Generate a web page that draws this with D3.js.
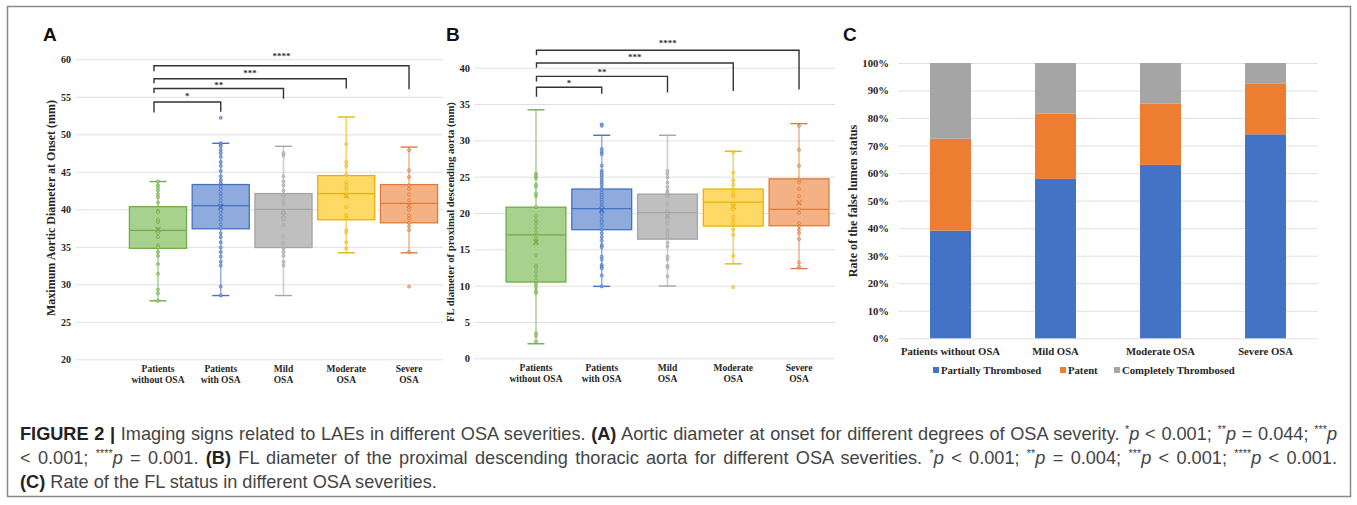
<!DOCTYPE html>
<html>
<head>
<meta charset="utf-8">
<script src="https://cdn.jsdelivr.net/npm/d3@7"></script>
<style>
  body { margin: 0; background: #fff; }
  svg { display: block; }
</style>
</head>
<body>
<svg id="fig" width="1357" height="505"></svg>
<script>
// ---- data ----
const boxGroups = [["Patients", "without OSA"], ["Patients", "with OSA"], ["Mild", "OSA"], ["Moderate", "OSA"], ["Severe", "OSA"]];
const sigLabels = ["*", "**", "***", "****"];
const sigTargets = [1, 2, 3, 4];

// panel A: maximum aortic diameter at onset (mm)
const aMin = [27.8, 28.5, 28.5, 34.2, 34.2];
const aQ1 = [34.8, 37.4, 34.9, 38.6, 38.2];
const aMedian = [37.2, 40.5, 40.0, 42.1, 40.8];
const aQ3 = [40.35, 43.3, 42.1, 44.5, 43.3];
const aMax = [43.7, 48.8, 48.4, 52.3, 48.3];
const aMean = [37.3, 40.35, 39.2, 41.8, 40.5];
const aOutliers = [[], [52.2], [], [], [29.7]];
const aPoints = [
  [43.7, 43.2, 42.9, 42.5, 42.0, 41.6, 40.9, 39.8, 39.6, 38.6, 38.3, 37.4, 36.8, 36.3, 35.2, 34.9, 34.3, 33.8, 32.7, 31.4, 29.3, 28.8, 27.8],
  [48.8, 48.7, 48.4, 47.9, 47.5, 47.0, 46.3, 45.8, 45.1, 44.4, 43.9, 43.5, 43.0, 42.6, 42.1, 41.7, 41.2, 40.8, 40.4, 39.9, 39.5, 39.0, 38.6, 38.0, 37.5, 36.8, 36.3, 35.6, 34.9, 34.3, 33.7, 33.0, 32.5, 29.7, 28.5],
  [47.5, 47.2, 44.4, 43.7, 43.2, 42.5, 41.8, 41.2, 40.7, 39.7, 39.6, 38.6, 37.9, 36.4, 35.5, 34.8, 34.3, 33.8, 33.0, 32.5],
  [48.7, 46.3, 45.8, 44.6, 43.6, 43.2, 42.7, 42.1, 41.7, 40.3, 39.2, 38.8, 37.2, 36.9, 35.6, 34.8],
  [47.9, 45.2, 44.3, 43.2, 42.7, 42.0, 41.2, 39.9, 39.2, 38.8, 38.2, 37.7, 37.2, 34.3]
];

// panel B: FL diameter of proximal descending aorta (mm)
const bMin = [2.0, 9.9, 9.95, 13.0, 12.35];
const bQ1 = [10.5, 17.7, 16.4, 18.2, 18.25];
const bMedian = [17.0, 20.6, 20.05, 21.5, 20.5];
const bQ3 = [20.8, 23.3, 22.6, 23.3, 24.7];
const bMax = [34.2, 30.7, 30.7, 28.5, 32.3];
const bMean = [16.0, 20.4, 19.6, 20.9, 21.4];
const bOutliers = [[], [32.2, 32.0], [], [9.8], []];
const bPoints = [
  [25.4, 25.1, 24.8, 23.9, 23.6, 22.7, 22.3, 20.8, 19.6, 19.0, 18.5, 17.9, 17.35, 16.6, 16.1, 15.8, 14.2, 12.75, 12.5, 11.9, 11.3, 10.7, 10.2, 9.8, 9.3, 9.0, 3.45, 3.1, 2.3],
  [28.8, 28.4, 28.1, 26.5, 25.8, 25.55, 25.2, 24.9, 24.5, 24.2, 23.9, 23.5, 23.2, 22.8, 22.5, 22.2, 21.8, 21.5, 21.1, 20.8, 20.4, 20.0, 19.5, 19.0, 18.7, 18.3, 17.7, 17.2, 16.7, 16.2, 15.6, 15.3, 14.0, 13.6, 12.85, 12.6, 12.4, 11.4, 9.9],
  [25.8, 25.4, 24.9, 24.2, 23.6, 23.1, 22.8, 22.3, 21.25, 20.3, 19.5, 18.9, 18.5, 17.7, 17.2, 16.7, 15.9, 15.4, 14.0, 13.6, 12.75, 12.5, 11.3],
  [28.35, 25.55, 24.5, 23.9, 23.2, 22.6, 22.3, 21.25, 20.5, 19.5, 19.0, 18.5, 17.7, 17.0, 14.1],
  [32.0, 28.7, 26.5, 24.5, 24.2, 23.3, 22.3, 20.5, 20.0, 18.6, 18.2, 17.7, 17.2, 16.4, 13.2, 12.6]
];

// panel C: rate of the false lumen status (%)
const cGroups = ["Patients without OSA", "Mild OSA", "Moderate OSA", "Severe OSA"];
const cSeries = ["Partially Thrombosed", "Patent", "Completely Thrombosed"];
const cPartial = [39.1, 57.9, 63.0, 74.1];
const cPatent = [33.4, 23.7, 22.2, 18.5];
const cComplete = [27.5, 18.4, 14.8, 7.4];

// ---- styles ----
const serif = "'Liberation Serif', 'Times New Roman', serif";
const sans = "'Liberation Sans', Arial, Helvetica, sans-serif";
const boxFill = ["#a9d18e", "#8faadc", "#bfbfbf", "#ffd966", "#f4b183"];
const boxStroke = ["#70ad47", "#4472c4", "#a5a5a5", "#e6b400", "#e07b39"];
const barColor = ["#4472c4", "#ed7d31", "#a5a5a5"];
const gridColor = "#e0e0e0";
const textColor = "#262626";

const svg = d3.select("#fig");
svg.append("rect").attr("width", 1357).attr("height", 505).attr("fill", "#fff");
svg.append("rect").attr("x", 7.5).attr("y", 6.5).attr("width", 1343).attr("height", 490)
  .attr("fill", "none").attr("stroke", "#8a8a8a").attr("stroke-width", 1.5);

// panel letters
[["A", 43], ["B", 446], ["C", 843]].forEach(([t, x]) => {
  svg.append("text").attr("x", x).attr("y", 41).text(t)
    .attr("font-family", sans).attr("font-weight", "bold").attr("font-size", 19).attr("fill", "#111");
});

function boxPanel(o) {
  const g = svg.append("g");
  const y = d3.scaleLinear().domain(o.domain).range(o.yRange);
  const x = d3.scaleBand().domain(d3.range(boxGroups.length)).range(o.xRange)
    .paddingInner(0.09).paddingOuter(0.045);
  const cx = i => x(i) + x.bandwidth() / 2;

  const axis = g.append("g").attr("transform", `translate(${o.gridX[0]},0)`)
    .call(d3.axisLeft(y).tickValues(o.ticks).tickSize(-(o.gridX[1] - o.gridX[0])).tickPadding(o.pad));
  axis.select(".domain").remove();
  axis.selectAll(".tick line").attr("stroke", gridColor).attr("stroke-width", 1);
  axis.selectAll(".tick text").attr("font-family", serif).attr("font-weight", "bold")
    .attr("font-size", o.tickSize).attr("fill", textColor);

  g.append("text").attr("transform", `translate(${o.titleX},${o.titleY}) rotate(-90)`)
    .attr("text-anchor", "middle").attr("dy", "0.35em").text(o.title)
    .attr("font-family", serif).attr("font-weight", "bold").attr("font-size", o.titleSize).attr("fill", textColor);

  boxGroups.forEach((lines, i) => {
    lines.forEach((l, k) => {
      g.append("text").attr("x", cx(i)).attr("y", o.labelY[k]).attr("text-anchor", "middle").text(l)
        .attr("font-family", serif).attr("font-weight", "bold").attr("font-size", 9.5).attr("fill", textColor);
    });
  });

  const bw = x.bandwidth();
  const cap = 8.5;
  o.min.forEach((mn, i) => {
    const c = cx(i), col = boxStroke[i];
    g.append("line").attr("x1", c).attr("x2", c).attr("y1", y(o.max[i])).attr("y2", y(mn))
      .attr("stroke", col).attr("stroke-opacity", 0.55).attr("stroke-width", 1.6);
    [o.max[i], mn].forEach(v => {
      g.append("line").attr("x1", c - cap).attr("x2", c + cap).attr("y1", y(v)).attr("y2", y(v))
        .attr("stroke", col).attr("stroke-width", 1.4);
    });
    g.append("rect").attr("x", c - bw / 2).attr("width", bw)
      .attr("y", y(o.q3[i])).attr("height", y(o.q1[i]) - y(o.q3[i]))
      .attr("fill", boxFill[i]).attr("stroke", col).attr("stroke-width", 1.3);
    g.append("line").attr("x1", c - bw / 2).attr("x2", c + bw / 2)
      .attr("y1", y(o.median[i])).attr("y2", y(o.median[i])).attr("stroke", col).attr("stroke-width", 1.3);
    const pts = o.points[i].concat(o.outliers[i]);
    g.selectAll(null).data(pts).join("circle").attr("cx", c).attr("cy", d => y(d)).attr("r", 1.5)
      .attr("fill", boxFill[i]).attr("stroke", col).attr("stroke-width", 0.9).attr("opacity", 0.85);
    const my = y(o.mean[i]), s = 2.6;
    g.append("path").attr("d", `M${c - s},${my - s}L${c + s},${my + s}M${c - s},${my + s}L${c + s},${my - s}`)
      .attr("stroke", col).attr("stroke-width", 1.1);
  });

  // significance brackets
  const left = cx(0) + o.leftShift;
  sigTargets.forEach((t, k) => {
    const ly = y(o.level[k]);
    const path = `M${left},${y(o.leftEnd[k])}V${ly}H${cx(t)}V${y(o.rightEnd[k])}`;
    g.append("path").attr("d", path).attr("fill", "none").attr("stroke", "#333").attr("stroke-width", 1.4);
    g.append("text").attr("x", (left + cx(t)) / 2).attr("y", ly + o.starDy[k]).attr("text-anchor", "middle")
      .text(sigLabels[k]).attr("font-family", serif).attr("font-weight", "bold").attr("font-size", 9).attr("fill", "#333");
  });
}

boxPanel({
  domain: [20, 60], yRange: [359.3, 59.3], xRange: [126.6, 440.4], gridX: [76, 443],
  ticks: d3.range(20, 61, 5), pad: 5, tickSize: 10,
  title: "Maximum Aortic Diameter at Onset (mm)", titleX: 51, titleY: 208, titleSize: 12,
  labelY: [371.5, 383],
  min: aMin, q1: aQ1, median: aMedian, q3: aQ3, max: aMax, mean: aMean, points: aPoints, outliers: aOutliers,
  leftShift: -4, level: [54.3, 56.1, 57.4, 59.15], leftEnd: [52.9, 55.5, 56.8, 58.4], rightEnd: [53.0, 54.75, 56.1, 56.0],
  starDy: [-2.7, -0.7, -2.4, -6.4]
});

boxPanel({
  domain: [0, 40], yRange: [358.3, 67.7], xRange: [503.1, 831.9], gridX: [474, 835],
  ticks: d3.range(0, 41, 5), pad: 4, tickSize: 10.5,
  title: "FL diameter of proximal descending aorta (mm)", titleX: 450, titleY: 212, titleSize: 10.7,
  labelY: [370.5, 381.5],
  min: bMin, q1: bQ1, median: bMedian, q3: bQ3, max: bMax, mean: bMean, points: bPoints, outliers: bOutliers,
  leftShift: 0.5, level: [37.3, 38.8, 40.65, 42.4], leftEnd: [36.0, 38.1, 40.0, 41.7], rightEnd: [36.4, 36.6, 36.8, 37.0],
  starDy: [-1.3, -1.7, -2.7, -4.4]
});

// ---- panel C: stacked bars ----
(function () {
  const g = svg.append("g");
  const rows = cGroups.map((name, i) => ({ name, [cSeries[0]]: cPartial[i], [cSeries[1]]: cPatent[i], [cSeries[2]]: cComplete[i] }));
  const stack = d3.stack().keys(cSeries)(rows);
  const y = d3.scaleLinear().domain([0, 100]).range([338.3, 63]);
  const x = d3.scaleBand().domain(cGroups).range([898, 1318]).paddingInner(0.61).paddingOuter(0.305);

  const axis = g.append("g").attr("transform", "translate(898,0)")
    .call(d3.axisLeft(y).tickValues(d3.range(0, 101, 10)).tickFormat(d => d + "%").tickSize(-420).tickPadding(9));
  axis.select(".domain").remove();
  axis.selectAll(".tick line").attr("stroke", gridColor);
  axis.selectAll(".tick text").attr("font-family", serif).attr("font-weight", "bold")
    .attr("font-size", 10.7).attr("fill", textColor);

  g.selectAll("g.layer").data(stack).join("g").attr("fill", (d, i) => barColor[i])
    .selectAll("rect").data(d => d).join("rect")
    .attr("x", d => x(d.data.name)).attr("width", x.bandwidth())
    .attr("y", d => y(d[1])).attr("height", d => y(d[0]) - y(d[1]));

  g.selectAll("text.xl").data(cGroups).join("text")
    .attr("x", d => x(d) + x.bandwidth() / 2).attr("y", 354.5).attr("text-anchor", "middle").text(d => d)
    .attr("font-family", serif).attr("font-weight", "bold").attr("font-size", 10.7).attr("fill", textColor);

  g.append("text").attr("transform", "translate(853,201) rotate(-90)").attr("text-anchor", "middle")
    .attr("dy", "0.35em").text("Rate of the false lumen status")
    .attr("font-family", serif).attr("font-weight", "bold").attr("font-size", 12.2).attr("fill", textColor);

  const legendX = [933, 1060, 1114];
  cSeries.forEach((s, i) => {
    g.append("rect").attr("x", legendX[i]).attr("y", 367).attr("width", 6).attr("height", 6).attr("fill", barColor[i]);
    g.append("text").attr("x", legendX[i] + 8).attr("y", 373.5).text(s)
      .attr("font-family", serif).attr("font-weight", "bold").attr("font-size", 10.7).attr("fill", textColor);
  });
})();

// ---- caption: lines 1-2 justified ----
const captionLines = [
  [["b", "FIGURE 2 |"], ["n", " Imaging signs related to LAEs in different OSA severities. "], ["b", "(A)"],
   ["n", " Aortic diameter at onset for different degrees of OSA severity. "], ["s", "*"], ["i", "p"], ["n", " < 0.001; "],
   ["s", "**"], ["i", "p"], ["n", " = 0.044; "], ["s", "***"], ["i", "p"]],
  [["n", "< 0.001; "], ["s", "****"], ["i", "p"], ["n", " = 0.001. "], ["b", "(B)"],
   ["n", " FL diameter of the proximal descending thoracic aorta for different OSA severities. "],
   ["s", "*"], ["i", "p"], ["n", " < 0.001; "], ["s", "**"], ["i", "p"], ["n", " = 0.004; "],
   ["s", "***"], ["i", "p"], ["n", " < 0.001; "], ["s", "****"], ["i", "p"], ["n", " < 0.001."]],
  [["b", "(C)"], ["n", " Rate of the FL status in different OSA severities."]]
];
const capY = [440, 464, 488];
const capTexts = captionLines.map((parts, li) => {
  const t = svg.append("text").attr("x", 20).attr("y", capY[li]).attr("font-family", sans)
    .attr("font-size", 16).attr("fill", "#444").attr("xml:space", "preserve");
  parts.forEach(([kind, str]) => {
    const sp = t.append("tspan").text(str).attr("class", "k-" + kind);
    if (kind === "b") sp.attr("font-weight", "bold").attr("fill", "#222");
    if (kind === "i") sp.attr("font-style", "italic");
    if (kind === "s") sp.attr("font-size", "0.6em");
  });
  return t;
});
const fs = 16 * 1300 / capTexts[0].node().getComputedTextLength();
capTexts.forEach((t, li) => {
  t.attr("font-size", fs);
  t.selectAll("tspan").each(function (d, i, nodes) {
    if (d3.select(this).classed("k-s")) {
      d3.select(this).attr("dy", -0.38 * fs);
      if (nodes[i + 1]) d3.select(nodes[i + 1]).attr("dy", 0.38 * fs);
    }
  });
  if (li < 2) {
    const natural = t.node().getComputedTextLength();
    const spaces = captionLines[li].map(p => p[1]).join("").split(" ").length - 1;
    t.attr("word-spacing", Math.max(0, (1317 - natural) / spaces));
  }
});
</script>
</body>
</html>
